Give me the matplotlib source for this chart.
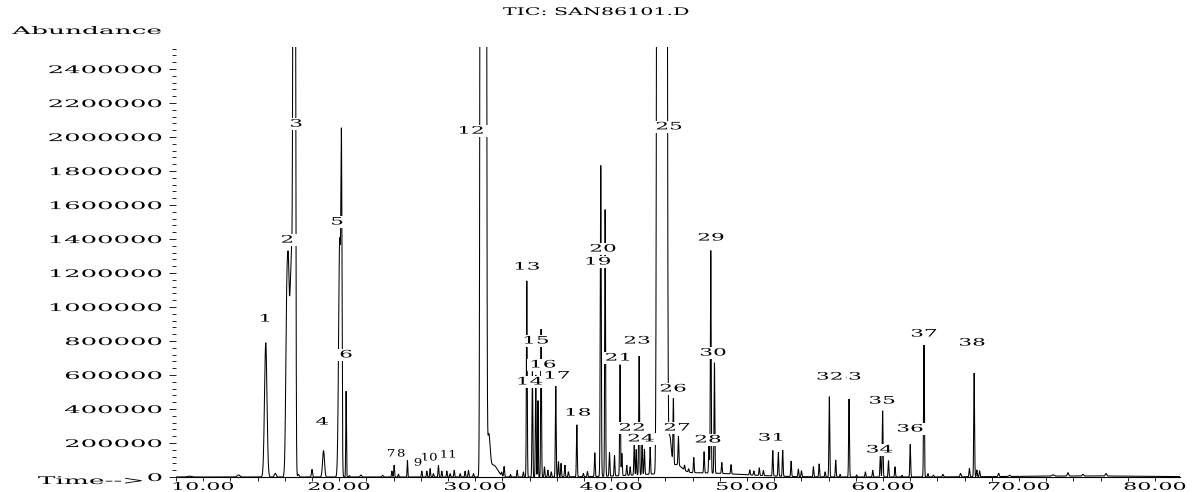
#!/usr/bin/env python
"""Redraw the TIC trace of run SAN86101.D from its picked peak table.

Each peak is kept as retention time / apex height / width; the trace is
the sum of those peaks.  Text is stretched sideways with a small path
effect so it looks like the wide plotter font of the original printout.
"""
import numpy as np
import matplotlib
matplotlib.use("Agg")
import matplotlib.pyplot as plt
from matplotlib.patheffects import AbstractPathEffect
from matplotlib.ticker import MultipleLocator
from matplotlib.transforms import Affine2D

plt.rcParams["font.family"] = "DejaVu Serif"

# --- peak table: retention time (min), apex (counts), sigma (min)
RT = [
    9.0, 12.6, 14.60, 15.30, 16.16, 16.28, 16.40, 16.51, 16.64, 16.76,
    17.0, 18.0, 18.85, 20.04, 20.17, 20.51, 20.75, 21.6, 23.2,
    23.88, 24.04, 24.36, 25.02, 26.08, 26.45, 26.69, 26.93, 27.30, 27.55,
    27.92, 28.16, 28.46, 28.90, 29.26, 29.51, 29.88,
    30.42, 30.60, 30.78, 31.00, 31.35,
    31.95, 32.13, 32.6, 33.09, 33.55,
    33.80, 34.21, 34.46, 34.62, 34.85, 35.1, 35.35, 35.6, 35.93,
    36.13, 36.32, 36.6, 36.86,
    37.48, 37.96, 38.26, 38.80, 39.24, 39.56, 39.88, 40.25, 40.66, 40.79,
    41.15, 41.4, 41.70, 41.85, 42.06, 42.28, 42.45, 42.87,
    43.42, 43.63, 43.84, 44.06, 44.30, 44.80,
    44.58, 44.95, 45.4, 45.7, 46.08, 46.84, 47.2, 47.33, 47.60, 48.14,
    48.82, 50.2, 50.5, 50.9, 51.2, 51.89, 52.3, 52.62,
    53.24, 53.77, 54.0, 54.88, 55.3, 55.74, 56.05, 56.52, 56.84, 57.50,
    58.06, 58.7, 59.24, 59.80, 59.97, 60.4, 60.88, 61.4, 62.0, 63.01,
    63.3, 63.7, 64.4, 65.7, 66.35, 66.70, 66.9, 67.1, 68.5, 69.3,
    72.5, 73.6, 74.7, 76.4,
    46.0, 75.0,
]
HEIGHT = [
    5e3, 12e3, 790e3, 22e3, 1.1e6, 0.8e6, 0.8e6, 1.07e6, 4.0e6, 4.0e6,
    15e3, 45e3, 155e3, 1.4e6, 1.65e6, 505e3, 8e3, 12e3, 10e3,
    35e3, 70e3, 18e3, 100e3, 35e3, 35e3, 50e3, 20e3, 70e3, 35e3,
    35e3, 20e3, 40e3, 20e3, 35e3, 40e3, 20e3,
    8e6, 8e6, 8e6, 220e3, 70e3,
    20e3, 60e3, 15e3, 40e3, 30e3,
    1.155e6, 620e3, 600e3, 450e3, 870e3, 60e3, 40e3, 30e3, 535e3,
    90e3, 80e3, 70e3, 30e3,
    306e3, 20e3, 30e3, 140e3, 1.83e6, 1.57e6, 140e3, 120e3, 653e3, 130e3,
    60e3, 50e3, 190e3, 150e3, 698e3, 190e3, 150e3, 160e3,
    7e6, 7e6, 7e6, 7e6, 200e3, 50e3,
    385e3, 170e3, 30e3, 20e3, 90e3, 125e3, 170e3, 1.31e6, 650e3, 65e3,
    55e3, 30e3, 25e3, 45e3, 30e3, 150e3, 140e3, 155e3,
    90e3, 45e3, 35e3, 60e3, 77e3, 30e3, 472e3, 100e3, 15e3, 459e3,
    12e3, 30e3, 40e3, 130e3, 390e3, 96e3, 60e3, 10e3, 192e3, 776e3,
    20e3, 10e3, 15e3, 20e3, 50e3, 610e3, 40e3, 35e3, 20e3, 8e3,
    8e3, 20e3, 10e3, 15e3,
    25e3, 6e3,
]
SIGMA = [
    0.15, 0.10, 0.09, 0.07, 0.08, 0.06, 0.06, 0.06, 0.05, 0.045,
    0.05, 0.04, 0.07, 0.08, 0.04, 0.025, 0.04, 0.05, 0.05,
    0.03, 0.03, 0.03, 0.025, 0.03, 0.03, 0.03, 0.03, 0.03, 0.03,
    0.03, 0.03, 0.03, 0.03, 0.03, 0.03, 0.03,
    0.05, 0.05, 0.05, 0.10, 0.30,
    0.03, 0.03, 0.03, 0.03, 0.03,
    0.03, 0.03, 0.03, 0.025, 0.03, 0.03, 0.03, 0.03, 0.03,
    0.03, 0.03, 0.03, 0.03,
    0.03, 0.03, 0.03, 0.03, 0.035, 0.03, 0.03, 0.03, 0.03, 0.03,
    0.03, 0.03, 0.03, 0.025, 0.03, 0.03, 0.03, 0.03,
    0.06, 0.06, 0.06, 0.06, 0.12, 0.40,
    0.03, 0.03, 0.03, 0.03, 0.03, 0.03, 0.03, 0.03, 0.03, 0.03,
    0.03, 0.03, 0.03, 0.03, 0.03, 0.03, 0.03, 0.03,
    0.03, 0.03, 0.03, 0.03, 0.03, 0.03, 0.03, 0.03, 0.03, 0.03,
    0.03, 0.03, 0.03, 0.03, 0.03, 0.03, 0.03, 0.03, 0.03, 0.03,
    0.03, 0.04, 0.04, 0.04, 0.03, 0.03, 0.03, 0.03, 0.04, 0.05,
    0.08, 0.05, 0.05, 0.05,
    3.5, 5.0,
]
assert len(RT) == len(HEIGHT) == len(SIGMA)

# --- peak numbers as printed, with the spot where each number sits
LABEL_TEXT = [str(i) for i in range(1, 39)]
LABEL_RT = [
    14.56, 16.18, 16.84, 18.75, 19.85, 20.51, 23.82, 24.56, 25.80, 26.62,
    28.02, 29.71, 33.82, 34.04, 34.49, 35.00, 36.03, 37.57, 39.04, 39.41,
    40.51, 41.54, 41.91, 42.21, 44.26, 44.56, 44.85, 47.13, 47.35, 47.50,
    51.76, 56.07, 57.43, 59.75, 59.93, 61.99, 63.01, 66.55,
]
LABEL_Y = [
    929e3, 1394e3, 2076e3, 323e3, 1500e3, 718e3, 135e3, 135e3, 82e3, 112e3,
    129e3, 2035e3, 1235e3, 559e3, 800e3, 659e3, 594e3, 376e3, 1265e3, 1341e3,
    700e3, 288e3, 800e3, 224e3, 2060e3, 518e3, 288e3, 218e3, 1406e3, 729e3,
    229e3, 588e3, 588e3, 159e3, 447e3, 282e3, 841e3, 788e3,
]
CROWDED = {"7", "8", "9", "10", "11"}   # printed narrower, squeezed together
ON_TOP = {"9": 5.2, "10": 5.1, "32": 5.0}  # numbers printed over their neighbour

Y_MAJOR = list(range(0, 2400001, 200000))
X_MAJOR = [10, 20, 30, 40, 50, 60, 70, 80]


class Wide(AbstractPathEffect):
    """Stretch a drawn path horizontally about a fraction of its width."""

    def __init__(self, sx, anchor=0.5):
        super().__init__()
        self.sx = sx
        self.anchor = anchor

    def draw_path(self, renderer, gc, tpath, affine, rgbFace=None):
        box = affine.transform_path(tpath).get_extents()
        x0 = box.x0 + self.anchor * box.width
        stretch = Affine2D().translate(-x0, 0).scale(self.sx, 1).translate(x0, 0)
        renderer.draw_path(gc, tpath, affine + stretch, rgbFace)


def widen(txt, sx, anchor=0.5):
    txt.set_path_effects([Wide(sx, anchor)])
    patch = txt.get_bbox_patch()
    if patch is not None:
        patch.set_path_effects([Wide(sx, anchor)])


W, H = 1192, 492
fig = plt.figure(figsize=(W / 100, H / 100), dpi=100)
fig.patch.set_facecolor("white")
ax = fig.add_axes([176 / W, 15 / H, (1180 - 176) / W, (477 - 47) / H])

t = np.arange(7.6, 81.9, 0.003)
trace = np.zeros_like(t)
for rt, h, s in zip(RT, HEIGHT, SIGMA):
    trace += h * np.exp(-0.5 * ((t - rt) / s) ** 2)
ax.plot(t, trace, color="black", lw=0.75, solid_joinstyle="miter")

ax.set_xlim(8.0, 81.84)
ax.set_ylim(0, 2.53e6)

for spine in ("left", "top", "right"):
    ax.spines[spine].set_visible(False)
ax.spines["bottom"].set_linewidth(0.8)

ax.set_yticks(Y_MAJOR)
ax.set_yticklabels([str(v) for v in Y_MAJOR])
ax.yaxis.set_minor_locator(MultipleLocator(40000))
ax.set_xticks(X_MAJOR)
ax.set_xticklabels([f"{v:.2f}" for v in X_MAJOR])
ax.xaxis.set_minor_locator(MultipleLocator(2))
ax.tick_params(axis="y", which="major", direction="out", length=5, width=0.6,
               pad=5, labelsize=7.6)
ax.tick_params(axis="y", which="minor", direction="out", length=2.6, width=0.6)
ax.tick_params(axis="x", which="major", direction="out", length=3, width=0.6,
               pad=0.5, labelsize=7.6)
ax.tick_params(axis="x", which="minor", direction="out", length=2.6, width=0.6)
for lab in ax.get_yticklabels():
    widen(lab, 2.45, 1.0)
for lab in ax.get_xticklabels():
    widen(lab, 2.1, 0.5)

# peak numbers: white box so they cut through the peak lines like the printout
for i, (s, x, y) in enumerate(zip(LABEL_TEXT, LABEL_RT, LABEL_Y)):
    z = ON_TOP.get(s, 4 + i * 0.01)
    small = s in CROWDED
    txt = ax.text(x, y, s, ha="center", va="center", fontsize=7.4,
                  bbox=dict(boxstyle="square,pad=0.12", fc="white", ec="none"),
                  zorder=z)
    widen(txt, 1.3 if small else 2.1, 0.5)

title = fig.text(596 / W, 1 - 12 / H, "TIC: SAN86101.D", ha="center",
                 va="center", fontsize=7.6)
widen(title, 1.95, 0.5)
abund = fig.text(12 / W, 1 - 31 / H, "Abundance", ha="left", va="center",
                 fontsize=7.6)
widen(abund, 2.5, 0.0)
time_lbl = fig.text(38 / W, 1 - 481 / H, "Time-->", ha="left", va="center",
                    fontsize=7.6)
widen(time_lbl, 2.5, 0.0)

fig.savefig("out.png", dpi=100, facecolor="white")
